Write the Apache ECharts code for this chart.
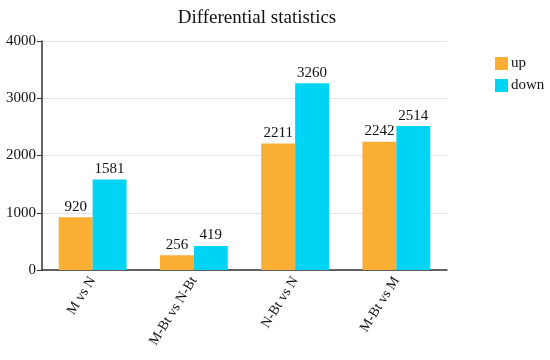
<!DOCTYPE html>
<html><head><meta charset="utf-8">
<script src="https://cdn.jsdelivr.net/npm/echarts@6/dist/echarts.min.js"></script>
<style>html,body{margin:0;padding:0;background:#fff}#c{width:550px;height:360px}</style>
</head><body><div id="c"></div>
<script>
var categories = ['M vs N', 'M-Bt vs N-Bt', 'N-Bt vs N', 'M-Bt vs M'];
var upValues = [920, 256, 2211, 2242];
var downValues = [1581, 419, 3260, 2514];
var yTicks = [0, 1000, 2000, 3000, 4000];
var F = '"Liberation Serif", "Times New Roman", serif';
var chart = echarts.init(document.getElementById('c'));
chart.setOption({
  animation: false,
  textStyle: {fontFamily: F},
  title: {text: 'Differential statistics', left: 252, textAlign: 'center', top: 4,
    textStyle: {fontFamily: F, fontSize: 19, fontWeight: 'normal', color: '#111'}},
  legend: {orient: 'vertical', left: 495, top: 56, itemWidth: 13, itemHeight: 13, itemGap: 7,
    padding: 0, icon: 'rect',
    textStyle: {fontFamily: F, fontSize: 15, color: '#111', padding: [0, 0, 0, -2]},
    data: ['up', 'down']},
  grid: {left: 42, right: 103, top: 41, bottom: 90, containLabel: false},
  xAxis: {type: 'category', data: categories,
    axisLine: {lineStyle: {color: '#333', width: 1.5}},
    axisTick: {alignWithLabel: true, length: 5, lineStyle: {color: '#333'}},
    axisLabel: {rotate: 58, fontFamily: F, fontSize: 14, color: '#111', margin: 8}},
  yAxis: {type: 'value', min: yTicks[0], max: yTicks[yTicks.length - 1], interval: 1000,
    axisLine: {show: true, lineStyle: {color: '#333', width: 1.5}},
    axisTick: {show: true, length: 5, lineStyle: {color: '#333'}},
    axisLabel: {fontFamily: F, fontSize: 15, color: '#111', margin: 6,
      formatter: function (v) { return String(v); }},
    splitLine: {lineStyle: {color: '#e3e3e3'}}},
  series: [
    {name: 'up', type: 'bar', data: upValues, barGap: '0%', barCategoryGap: '33%',
     itemStyle: {color: '#FBAE34'},
     label: {show: true, position: 'top', fontFamily: F, fontSize: 15, color: '#111', distance: 3}},
    {name: 'down', type: 'bar', data: downValues,
     itemStyle: {color: '#00D4F5'},
     label: {show: true, position: 'top', fontFamily: F, fontSize: 15, color: '#111', distance: 3}}
  ]
});
</script></body></html>
